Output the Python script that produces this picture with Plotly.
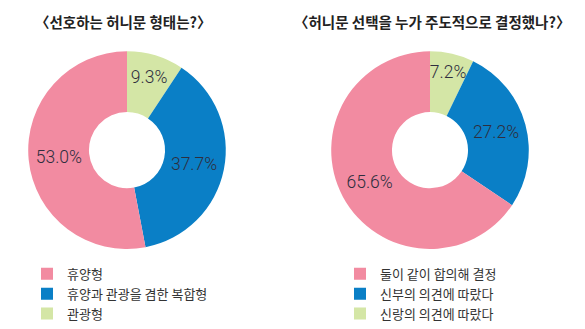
import plotly.graph_objects as go

# Survey 1: preferred honeymoon type (listed clockwise from 12 o'clock)
type_labels = ["관광형", "휴양과 관광을 겸한 복합형", "휴양형"]
type_values = [9.3, 37.7, 53.0]
type_title = "〈선호하는 허니문 형태는?〉"

# Survey 2: who decides on the honeymoon (listed clockwise from 12 o'clock)
decider_labels = ["신랑의 의견에 따랐다", "신부의 의견에 따랐다", "둘이 같이 합의해 결정"]
decider_values = [7.2, 27.2, 65.6]
decider_title = "〈허니문 선택을 누가 주도적으로 결정했나?〉"

colors = ["#D4E6A6", "#0A7FC6", "#F28BA1"]

W, H = 585, 329
KR = "Noto Sans CJK KR, Noto Sans, sans-serif"
NUM = "Roboto, sans-serif"


def px_x(x):
    return x / W


def px_y(y):
    return 1 - y / H


def donut(labels, values, x0, x1, legend_id):
    return go.Pie(
        labels=labels,
        values=values,
        sort=False,
        direction="clockwise",
        rotation=0,
        hole=0.385,
        marker=dict(colors=colors, line=dict(width=0)),
        texttemplate="%{value:.1f}%",
        textposition="inside",
        insidetextorientation="horizontal",
        textfont=dict(family=NUM, size=17.5, color="#2E2E3E", weight=300),
        hoverinfo="label+value",
        domain=dict(x=[px_x(x0), px_x(x1)], y=[px_y(252), px_y(52)]),
        legend=legend_id,
        showlegend=True,
    )


fig = go.Figure()
fig.add_trace(donut(type_labels, type_values, 27, 227, "legend"))
fig.add_trace(donut(decider_labels, decider_values, 330, 530, "legend2"))

legend_style = dict(
    font=dict(family=KR, size=13, color="#333333"),
    bgcolor="rgba(0,0,0,0)",
    borderwidth=0,
    xanchor="left",
    yanchor="top",
    traceorder="reversed",
    itemclick=False,
    itemdoubleclick=False,
    tracegroupgap=0,
)

fig.update_layout(
    width=W,
    height=H,
    margin=dict(l=0, r=0, t=0, b=0),
    paper_bgcolor="white",
    plot_bgcolor="white",
    uniformtext=dict(minsize=17.5, mode="show"),
    legend=dict(x=px_x(27), y=px_y(262), **legend_style),
    legend2=dict(x=px_x(340), y=px_y(262), **legend_style),
    annotations=[
        dict(text=f"<b>{type_title}</b>", x=px_x(33), y=px_y(22), xref="paper", yref="paper",
             xanchor="left", yanchor="middle", showarrow=False,
             font=dict(family=KR, size=14.5, color="#222222")),
        dict(text=f"<b>{decider_title}</b>", x=px_x(292), y=px_y(22), xref="paper", yref="paper",
             xanchor="left", yanchor="middle", showarrow=False,
             font=dict(family=KR, size=14.5, color="#222222")),
    ],
)

fig.write_html("out.html")
